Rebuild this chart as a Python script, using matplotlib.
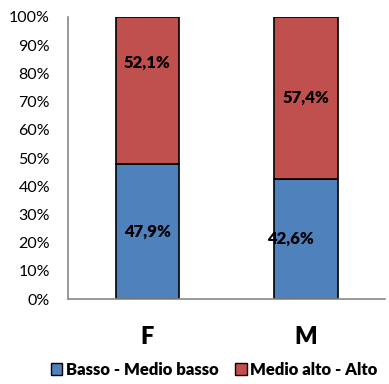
import matplotlib.pyplot as plt
from matplotlib.patches import Patch
import numpy as np

plt.rcParams['font.family'] = ['Lato', 'DejaVu Sans']

categories = ['F', 'M']
series_names = ['Basso - Medio basso', 'Medio alto - Alto']
basso = [47.9, 42.6]
alto = [52.1, 57.4]
label_texts = [['47,9%', '42,6%'], ['52,1%', '57,4%']]

colors = ['#4F81BD', '#C0504D']

fig = plt.figure(figsize=(3.89, 3.84), dpi=100)
ax = fig.add_axes([0.175, 0.221, 0.815, 0.735])

x = np.arange(len(categories))
b1 = ax.bar(x, basso, width=0.4, color=colors[0], edgecolor='black', linewidth=1.2)
b2 = ax.bar(x, alto, width=0.4, bottom=basso, color=colors[1], edgecolor='black', linewidth=1.2)

# data labels (a couple of them nudged like in the original workbook)
offsets = {(0, 0): (0, 0), (0, 1): (-11, 0), (1, 0): (0, 20), (1, 1): (0, 0)}
for s, (vals, bots) in enumerate([(basso, [0, 0]), (alto, basso)]):
    for i in range(len(categories)):
        dx, dy = offsets[(s, i)]
        ax.annotate(label_texts[s][i], (x[i], bots[i] + vals[i] / 2),
                    xytext=(dx, dy), textcoords='offset points',
                    ha='center', va='center', fontsize=12, fontweight='heavy')

ax.set_xlim(-0.5, 1.5)
ax.set_ylim(0, 100)
ax.set_yticks(np.arange(0, 101, 10))
ax.set_yticklabels([f'{v}%' for v in range(0, 101, 10)], fontsize=11.5)
ax.set_xticks(x)
ax.set_xticklabels(categories, fontsize=17, fontweight='heavy')
ax.tick_params(axis='both', length=0)
ax.tick_params(axis='y', pad=13)
ax.tick_params(axis='x', pad=19)

for side in ['top', 'right']:
    ax.spines[side].set_visible(False)
for side in ['left', 'bottom']:
    ax.spines[side].set_color('#888888')
    ax.spines[side].set_linewidth(1.2)

handles = [Patch(facecolor=c, edgecolor='black', label=n) for c, n in zip(colors, series_names)]
fig.legend(handles=handles, loc='center', bbox_to_anchor=(0.55, 0.037), ncol=2,
           frameon=False, prop={'size': 12, 'weight': 'heavy'},
           handlelength=0.7, handleheight=0.7, handletextpad=0.2, columnspacing=1.0)

fig.savefig('out.png', dpi=100)
